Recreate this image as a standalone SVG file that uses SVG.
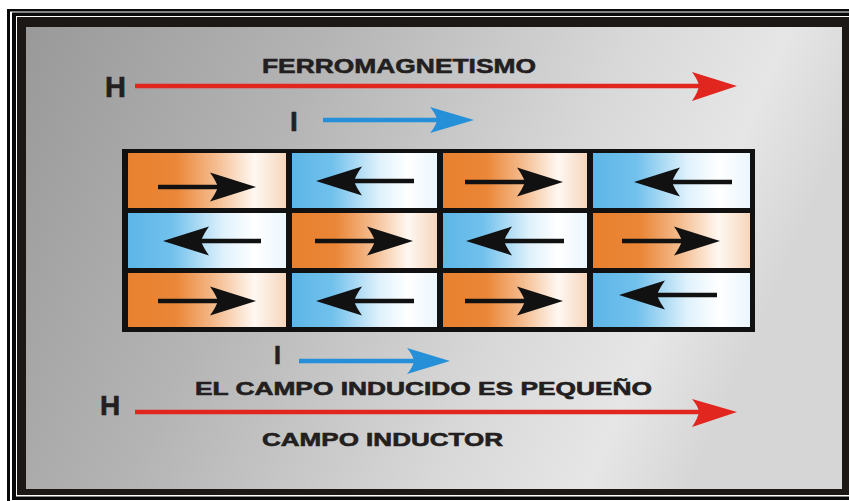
<svg xmlns="http://www.w3.org/2000/svg" xmlns:xlink="http://www.w3.org/1999/xlink" width="849" height="501" viewBox="0 0 849 501">
<defs>
<style>
.t{font-family:"Liberation Sans",Arial,sans-serif;font-weight:bold;fill:#231f20;stroke:#231f20;stroke-width:0.6}
.cell{stroke:none}
.blk{fill:#111}
</style>
<linearGradient id="bg" x1="0" y1="0" x2="1" y2="0.25">
<stop offset="0" stop-color="#999999"/>
<stop offset="0.35" stop-color="#b4b4b4"/>
<stop offset="0.7" stop-color="#d8d8d8"/>
<stop offset="0.88" stop-color="#e6e6e6"/>
<stop offset="1" stop-color="#d6d6d6"/>
</linearGradient>
<linearGradient id="og" x1="0" y1="0" x2="1" y2="0">
<stop offset="0" stop-color="#e8812f"/>
<stop offset="0.3" stop-color="#ea8637"/>
<stop offset="0.55" stop-color="#f4bb8d"/>
<stop offset="0.8" stop-color="#fff8f2"/>
<stop offset="1" stop-color="#f6d6bb"/>
</linearGradient>
<linearGradient id="bl" x1="0" y1="0" x2="1" y2="0">
<stop offset="0" stop-color="#5cb6e8"/>
<stop offset="0.28" stop-color="#72c1ec"/>
<stop offset="0.6" stop-color="#dff1fb"/>
<stop offset="0.8" stop-color="#ffffff"/>
<stop offset="1" stop-color="#eaf6fd"/>
</linearGradient>
<g id="arr">
<line x1="-98" y1="0" x2="-36" y2="0" stroke="#111" stroke-width="4.5"/>
<path class="blk" d="M0,0 L-46,-14.5 Q-40,-6 -38,0 Q-40,6 -46,14.5 Z"/>
</g>
</defs>

<g id="frame">
<rect x="0" y="0" width="849" height="501" fill="#ffffff"/>
<rect x="7" y="9" width="842" height="492" fill="#0a0a0a"/>
<rect x="10" y="11.5" width="839" height="490" fill="#ffffff"/>
<rect x="12" y="12.5" width="837" height="487.5" fill="#0a0a0a"/>
<rect x="16" y="16" width="833" height="480.5" fill="#ffffff"/>
<rect x="17" y="17" width="832" height="478" fill="#1c1816"/>
<rect x="26" y="27" width="816" height="462" fill="url(#bg)"/>
</g>

<g id="grid">
<rect x="122" y="149" width="633" height="183" fill="#111"/>
<g id="r1c1"><rect class="cell" x="128" y="153" width="158" height="55" fill="url(#og)"/><use xlink:href="#arr" transform="translate(256,187)"/></g>
<g id="r1c2"><rect class="cell" x="292" y="153" width="145" height="55" fill="url(#bl)"/><use xlink:href="#arr" transform="translate(316,181) scale(-1,1)"/></g>
<g id="r1c3"><rect class="cell" x="443" y="153" width="144" height="55" fill="url(#og)"/><use xlink:href="#arr" transform="translate(563,182)"/></g>
<g id="r1c4"><rect class="cell" x="593" y="153" width="157" height="55" fill="url(#bl)"/><use xlink:href="#arr" transform="translate(634,182) scale(-1,1)"/></g>

<g id="r2c1"><rect class="cell" x="128" y="213" width="158" height="55" fill="url(#bl)"/><use xlink:href="#arr" transform="translate(163,241) scale(-1,1)"/></g>
<g id="r2c2"><rect class="cell" x="292" y="213" width="145" height="55" fill="url(#og)"/><use xlink:href="#arr" transform="translate(413,241)"/></g>
<g id="r2c3"><rect class="cell" x="443" y="213" width="144" height="55" fill="url(#bl)"/><use xlink:href="#arr" transform="translate(466,241) scale(-1,1)"/></g>
<g id="r2c4"><rect class="cell" x="593" y="213" width="157" height="55" fill="url(#og)"/><use xlink:href="#arr" transform="translate(720,241)"/></g>

<g id="r3c1"><rect class="cell" x="128" y="273" width="158" height="54" fill="url(#og)"/><use xlink:href="#arr" transform="translate(256,301)"/></g>
<g id="r3c2"><rect class="cell" x="292" y="273" width="145" height="54" fill="url(#bl)"/><use xlink:href="#arr" transform="translate(316,301) scale(-1,1)"/></g>
<g id="r3c3"><rect class="cell" x="443" y="273" width="144" height="54" fill="url(#og)"/><use xlink:href="#arr" transform="translate(563,301)"/></g>
<g id="r3c4"><rect class="cell" x="593" y="273" width="157" height="54" fill="url(#bl)"/><use xlink:href="#arr" transform="translate(619,295) scale(-1,1)"/></g>
</g>

<g id="arrows">
<g id="h-top">
<line x1="135" y1="86" x2="700" y2="86" stroke="#e0261f" stroke-width="4.5"/>
<path d="M737,86 L692,72 Q698,80 699,86 Q698,92 692,101 Z" fill="#e0261f"/>
</g>
<g id="i-top">
<line x1="323" y1="120" x2="438" y2="120" stroke="#2590d8" stroke-width="4.5"/>
<path d="M474,120 L430,107 Q436,114 437,120 Q436,126 430,133 Z" fill="#2590d8"/>
</g>
<g id="i-bottom">
<line x1="299" y1="361" x2="414" y2="361" stroke="#2590d8" stroke-width="4.5"/>
<path d="M450,361 L407,348 Q413,355 414,361 Q413,367 407,374 Z" fill="#2590d8"/>
</g>
<g id="h-bottom">
<line x1="135" y1="412" x2="700" y2="412" stroke="#e0261f" stroke-width="4.5"/>
<path d="M737,412 L692,399 Q698,406 699,412 Q698,418 692,427 Z" fill="#e0261f"/>
</g>
</g>

<g id="labels">
<text id="t-h1" class="t" x="105" y="97" font-size="29">H</text>
<text id="t-ferro" class="t" x="262" y="73" font-size="21" textLength="274" lengthAdjust="spacingAndGlyphs">FERROMAGNETISMO</text>
<text id="t-i1" class="t" x="290" y="131" font-size="28">I</text>
<text id="t-i2" class="t" x="274" y="364" font-size="25">I</text>
<text id="t-campo-ind" class="t" x="195" y="395" font-size="18.5" textLength="457" lengthAdjust="spacingAndGlyphs">EL CAMPO INDUCIDO ES PEQUEÑO</text>
<text id="t-h2" class="t" x="100" y="415" font-size="28">H</text>
<text id="t-campo-inductor" class="t" x="262" y="446" font-size="18.5" textLength="241" lengthAdjust="spacingAndGlyphs">CAMPO INDUCTOR</text>
</g>
</svg>
